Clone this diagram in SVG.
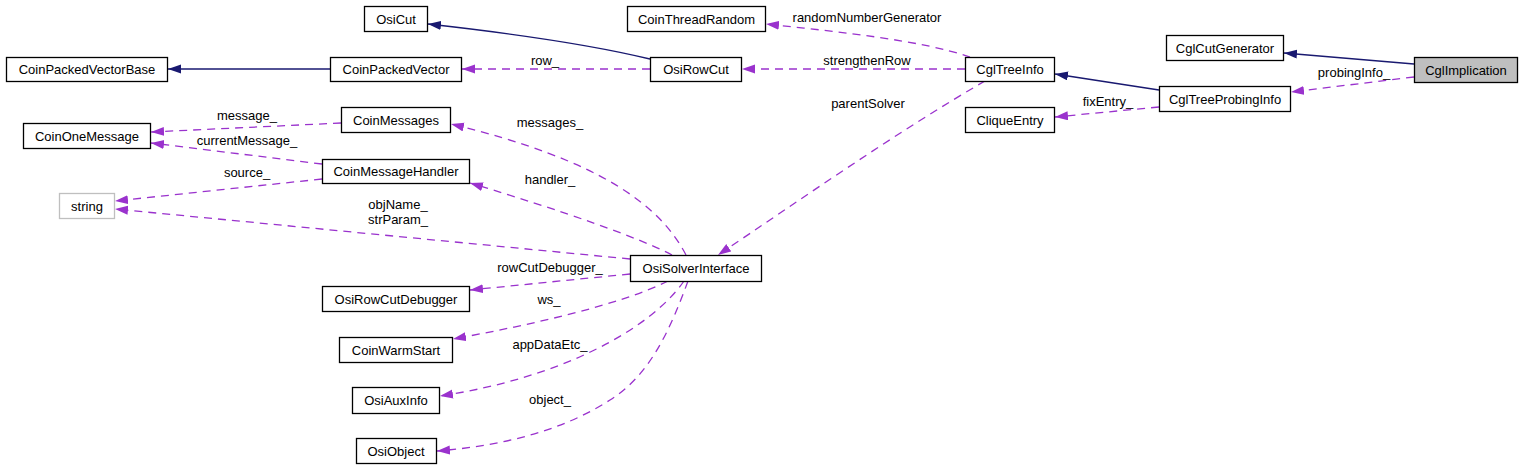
<svg xmlns="http://www.w3.org/2000/svg" width="1536" height="469" viewBox="0 0 1536 469">
<style>
.n rect{fill:#fff;stroke:#000;stroke-width:1.3}
.n text{font-family:"Liberation Sans",Arial,sans-serif;font-size:13px;text-anchor:middle;fill:#000}
.l{font-family:"Liberation Sans",Arial,sans-serif;font-size:13px;text-anchor:middle;fill:#000}
.inh{fill:none;stroke:#191970;stroke-width:1.3}
.use{fill:none;stroke:#9a32cd;stroke-width:1.3;stroke-dasharray:8,6}
</style>
<defs>
<marker id="an" markerWidth="14" markerHeight="10" refX="13" refY="4.5" orient="auto" markerUnits="userSpaceOnUse"><path d="M0,0 L13,4.5 L0,9 z" fill="#191970"/></marker>
<marker id="ap" markerWidth="14" markerHeight="10" refX="13" refY="4.5" orient="auto" markerUnits="userSpaceOnUse"><path d="M0,0 L13,4.5 L0,9 z" fill="#9a32cd"/></marker>
</defs>
<rect width="1536" height="469" fill="#fff"/>
<g id="edges">
<path class="inh" d="M1414,64 L1284,53" marker-end="url(#an)"/>
<path class="use" d="M1414,77 L1291,92" marker-end="url(#ap)"/>
<text class="l" x="1354" y="77">probingInfo_</text>
<path class="inh" d="M1159,90 L1055,74" marker-end="url(#an)"/>
<path class="use" d="M1159,107 L1055,117" marker-end="url(#ap)"/>
<text class="l" x="1108" y="106">fixEntry_</text>
<path class="use" d="M970,57 C920,40 840,32 766,24" marker-end="url(#ap)"/>
<text class="l" x="867" y="22">randomNumberGenerator</text>
<path class="use" d="M965,69 L742,69" marker-end="url(#ap)"/>
<text class="l" x="867" y="65">strengthenRow</text>
<path class="use" d="M985,81 C900,130 800,200 718,255" marker-end="url(#ap)"/>
<text class="l" x="868" y="108">parentSolver</text>
<path class="inh" d="M650,59 C580,42 500,32 428,24" marker-end="url(#an)"/>
<path class="use" d="M650,69 L462,69" marker-end="url(#ap)"/>
<text class="l" x="545" y="65">row_</text>
<path class="inh" d="M330,69 L168,69" marker-end="url(#an)"/>
<path class="use" d="M341,123 L151,132" marker-end="url(#ap)"/>
<text class="l" x="247" y="120">message_</text>
<path class="use" d="M322,164 L151,143" marker-end="url(#ap)"/>
<text class="l" x="247" y="145">currentMessage_</text>
<path class="use" d="M322,179 L115,201" marker-end="url(#ap)"/>
<text class="l" x="247" y="177">source_</text>
<path class="use" d="M630,259 L115,209" marker-end="url(#ap)"/>
<text class="l" x="398" y="209">objName_</text>
<text class="l" x="398" y="224">strParam_</text>
<path class="use" d="M686,255 C660,205 600,160 451,124" marker-end="url(#ap)"/>
<text class="l" x="550" y="127">messages_</text>
<path class="use" d="M672,255 C640,238 560,210 470,183" marker-end="url(#ap)"/>
<text class="l" x="550" y="184">handler_</text>
<path class="use" d="M630,274 L470,290" marker-end="url(#ap)"/>
<text class="l" x="550" y="272">rowCutDebugger_</text>
<path class="use" d="M668,281 C620,305 530,325 453,339" marker-end="url(#ap)"/>
<text class="l" x="549" y="304">ws_</text>
<path class="use" d="M684,281 C650,330 560,378 440,396" marker-end="url(#ap)"/>
<text class="l" x="550" y="349">appDataEtc_</text>
<path class="use" d="M688,281 C670,330 650,375 610,400 C560,432 500,446 437,451" marker-end="url(#ap)"/>
<text class="l" x="550" y="404">object_</text>
</g>
<g id="CglImplication" class="n"><rect x="1414.5" y="57.5" width="103" height="25" style="fill:#bfbfbf"/><text x="1466" y="74.5">CglImplication</text></g>
<g id="CglCutGenerator" class="n"><rect x="1166.5" y="35.5" width="117" height="25"/><text x="1225" y="52.5">CglCutGenerator</text></g>
<g id="CglTreeProbingInfo" class="n"><rect x="1159.5" y="86.5" width="131" height="25"/><text x="1225" y="103.5">CglTreeProbingInfo</text></g>
<g id="CglTreeInfo" class="n"><rect x="965.5" y="57.5" width="89" height="24"/><text x="1010" y="74">CglTreeInfo</text></g>
<g id="CliqueEntry" class="n"><rect x="965.5" y="107.5" width="89" height="25"/><text x="1010" y="124.5">CliqueEntry</text></g>
<g id="CoinThreadRandom" class="n"><rect x="627.5" y="6.5" width="138" height="25"/><text x="696.5" y="23.5">CoinThreadRandom</text></g>
<g id="OsiRowCut" class="n"><rect x="650.5" y="57.5" width="91" height="24"/><text x="696" y="74">OsiRowCut</text></g>
<g id="OsiCut" class="n"><rect x="364.5" y="6.5" width="63" height="25"/><text x="396" y="23.5">OsiCut</text></g>
<g id="CoinPackedVector" class="n"><rect x="330.5" y="57.5" width="131" height="24"/><text x="396" y="74">CoinPackedVector</text></g>
<g id="CoinPackedVectorBase" class="n"><rect x="6.5" y="57.5" width="161" height="24"/><text x="87" y="74">CoinPackedVectorBase</text></g>
<g id="CoinMessages" class="n"><rect x="341.5" y="107.5" width="109" height="25"/><text x="396" y="124.5">CoinMessages</text></g>
<g id="CoinOneMessage" class="n"><rect x="23.5" y="123.5" width="127" height="25"/><text x="87" y="140.5">CoinOneMessage</text></g>
<g id="CoinMessageHandler" class="n"><rect x="322.5" y="159.5" width="147" height="24"/><text x="396" y="176">CoinMessageHandler</text></g>
<g id="string" class="n"><rect x="59.5" y="193.5" width="55" height="25" style="stroke:#bfbfbf"/><text x="87" y="210.5">string</text></g>
<g id="OsiSolverInterface" class="n"><rect x="630.5" y="255.5" width="131" height="26"/><text x="696" y="273">OsiSolverInterface</text></g>
<g id="OsiRowCutDebugger" class="n"><rect x="322.5" y="286.5" width="147" height="25"/><text x="396" y="303.5">OsiRowCutDebugger</text></g>
<g id="CoinWarmStart" class="n"><rect x="339.5" y="337.5" width="113" height="25"/><text x="396" y="354.5">CoinWarmStart</text></g>
<g id="OsiAuxInfo" class="n"><rect x="352.5" y="387.5" width="87" height="26"/><text x="396" y="405">OsiAuxInfo</text></g>
<g id="OsiObject" class="n"><rect x="356.5" y="438.5" width="80" height="25"/><text x="396" y="455.5">OsiObject</text></g>
</svg>
